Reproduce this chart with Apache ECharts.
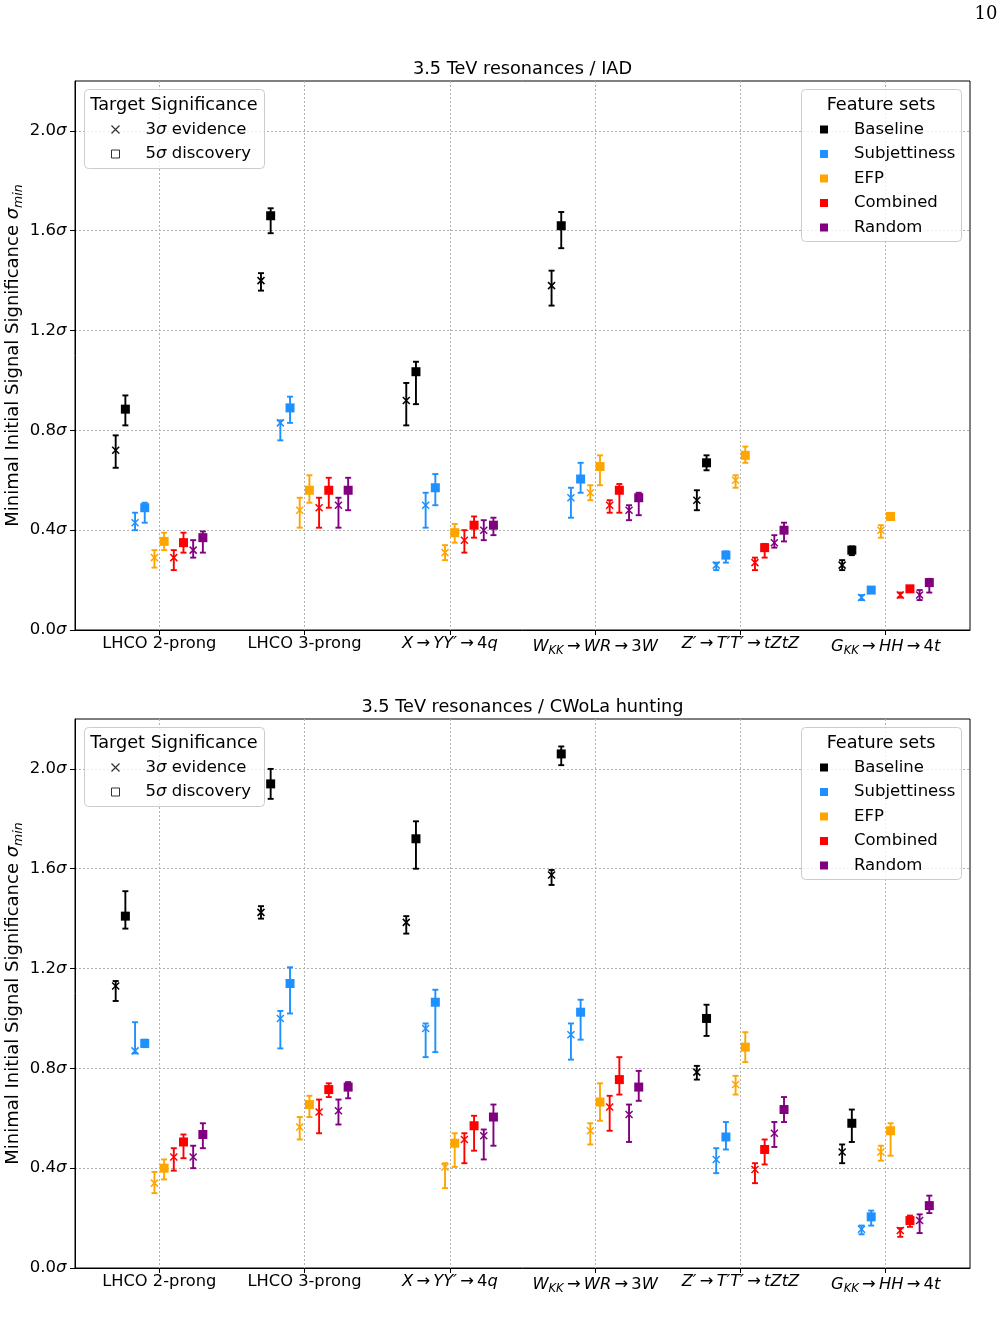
<!DOCTYPE html>
<html>
<head>
<meta charset="utf-8">
<script src="https://cdn.jsdelivr.net/npm/echarts@6/dist/echarts.min.js"></script>
<style>
html, body { margin: 0; padding: 0; background: #fff; }
#chart { width: 1002px; height: 1325px; }
</style>
</head>
<body>
<div id="chart"></div>
<script>
// ---- data ----
var categories = ['LHCO 2-prong', 'LHCO 3-prong', 'X→YY′→4q', 'W_KK→WR→3W', 'Z′→T′T′→tZtZ', 'G_KK→HH→4t'];
var categoryLabels = [
  '{n|LHCO 2-prong}',
  '{n|LHCO 3-prong}',
  '{i|X}{n|\u2009→\u2009}{i|YY′}{n|\u2009→\u20094}{i|q}',
  '{i|W}{s|KK}{n|\u2009→\u2009}{i|WR}{n|\u2009→\u20093}{i|W}',
  '{i|Z′}{n|\u2009→\u2009}{i|T′T′}{n|\u2009→\u2009}{i|tZtZ}',
  '{i|G}{s|KK}{n|\u2009→\u2009}{i|HH}{n|\u2009→\u20094}{i|t}'
];
var featureSets = ['Baseline', 'Subjettiness', 'EFP', 'Combined', 'Random'];
var significanceNames = ['3σ evidence', '5σ discovery'];
var panelTitles = ['3.5 TeV resonances / IAD', '3.5 TeV resonances / CWoLa hunting'];
var yTicks = [0, 0.4, 0.8, 1.2, 1.6, 2.0];

// IAD, rows = feature sets, cols = categories
var iadVal3 = [
  [0.72, 1.40, 0.92, 1.38, 0.52, 0.26],
  [0.43, 0.83, 0.50, 0.53, 0.26, 0.13],
  [0.29, 0.48, 0.31, 0.55, 0.60, 0.40],
  [0.29, 0.49, 0.36, 0.50, 0.27, 0.14],
  [0.32, 0.50, 0.40, 0.48, 0.35, 0.14]
];
var iadLo3 = [
  [0.65, 1.36, 0.82, 1.30, 0.48, 0.24],
  [0.40, 0.76, 0.41, 0.45, 0.24, 0.12],
  [0.25, 0.41, 0.28, 0.52, 0.57, 0.37],
  [0.24, 0.41, 0.31, 0.47, 0.24, 0.13],
  [0.29, 0.41, 0.36, 0.44, 0.33, 0.12]
];
var iadHi3 = [
  [0.78, 1.43, 0.99, 1.44, 0.56, 0.28],
  [0.47, 0.84, 0.55, 0.57, 0.27, 0.14],
  [0.32, 0.53, 0.34, 0.58, 0.62, 0.42],
  [0.32, 0.53, 0.40, 0.52, 0.29, 0.15],
  [0.36, 0.53, 0.44, 0.50, 0.38, 0.16]
];
var iadVal5 = [
  [0.885, 1.66, 1.035, 1.62, 0.67, 0.32],
  [0.49, 0.89, 0.57, 0.605, 0.30, 0.16],
  [0.355, 0.56, 0.39, 0.655, 0.70, 0.455],
  [0.35, 0.56, 0.42, 0.56, 0.33, 0.165],
  [0.37, 0.56, 0.42, 0.53, 0.40, 0.19]
];
var iadLo5 = [
  [0.82, 1.59, 0.905, 1.53, 0.64, 0.30],
  [0.43, 0.83, 0.50, 0.55, 0.27, 0.15],
  [0.32, 0.51, 0.35, 0.58, 0.67, 0.45],
  [0.31, 0.49, 0.37, 0.47, 0.29, 0.16],
  [0.31, 0.48, 0.38, 0.46, 0.355, 0.15]
];
var iadHi5 = [
  [0.94, 1.69, 1.075, 1.675, 0.70, 0.335],
  [0.51, 0.935, 0.625, 0.67, 0.315, 0.17],
  [0.39, 0.62, 0.425, 0.70, 0.735, 0.46],
  [0.39, 0.61, 0.455, 0.585, 0.345, 0.17],
  [0.395, 0.61, 0.45, 0.55, 0.43, 0.205]
];

// CWoLa hunting
var cwolaVal3 = [
  [1.13, 1.425, 1.385, 1.575, 0.785, 0.465],
  [0.87, 1.00, 0.96, 0.935, 0.435, 0.155],
  [0.34, 0.565, 0.405, 0.55, 0.735, 0.465],
  [0.445, 0.625, 0.515, 0.645, 0.395, 0.15],
  [0.445, 0.63, 0.53, 0.615, 0.54, 0.19]
];
var cwolaLo3 = [
  [1.07, 1.40, 1.34, 1.535, 0.755, 0.42],
  [0.86, 0.88, 0.845, 0.835, 0.38, 0.135],
  [0.30, 0.515, 0.32, 0.495, 0.695, 0.43],
  [0.39, 0.54, 0.42, 0.55, 0.34, 0.125],
  [0.40, 0.575, 0.435, 0.505, 0.485, 0.14]
];
var cwolaHi3 = [
  [1.15, 1.45, 1.41, 1.595, 0.81, 0.495],
  [0.985, 1.03, 0.98, 0.98, 0.48, 0.17],
  [0.385, 0.605, 0.42, 0.58, 0.77, 0.49],
  [0.48, 0.675, 0.54, 0.69, 0.42, 0.16],
  [0.49, 0.675, 0.555, 0.655, 0.585, 0.215]
];
var cwolaVal5 = [
  [1.41, 1.94, 1.72, 2.06, 1.00, 0.58],
  [0.90, 1.14, 1.065, 1.025, 0.525, 0.205],
  [0.40, 0.655, 0.50, 0.665, 0.885, 0.55],
  [0.505, 0.715, 0.57, 0.755, 0.475, 0.19],
  [0.535, 0.725, 0.605, 0.725, 0.635, 0.25]
];
var cwolaLo5 = [
  [1.36, 1.88, 1.60, 2.015, 0.93, 0.505],
  [0.885, 1.02, 0.865, 0.915, 0.475, 0.17],
  [0.355, 0.605, 0.405, 0.59, 0.825, 0.45],
  [0.44, 0.685, 0.47, 0.695, 0.415, 0.165],
  [0.48, 0.68, 0.49, 0.67, 0.585, 0.22]
];
var cwolaHi5 = [
  [1.51, 2.00, 1.79, 2.09, 1.055, 0.635],
  [0.915, 1.205, 1.115, 1.075, 0.585, 0.23],
  [0.435, 0.69, 0.54, 0.74, 0.945, 0.58],
  [0.535, 0.74, 0.61, 0.845, 0.515, 0.21],
  [0.58, 0.745, 0.655, 0.79, 0.685, 0.29]
];

// ---- styling ----
var setColors = ['#000000', '#1e90ff', '#ffa500', '#ff0000', '#800080'];
var FONT = 'DejaVu Sans';
var xCross = 'path://M0,0L10,10M10,0L0,10';
var gridTops = [81, 719];
var gridH = 549;

var panels = [
  { val3: iadVal3, lo3: iadLo3, hi3: iadHi3, val5: iadVal5, lo5: iadLo5, hi5: iadHi5 },
  { val3: cwolaVal3, lo3: cwolaLo3, hi3: cwolaHi3, val5: cwolaVal5, lo5: cwolaLo5, hi5: cwolaHi5 }
];

// dodge position of the k-th marker inside a category
function offset(k) {
  return -0.3 + k * 0.6 / 9;
}

function renderErrorBar(params, api) {
  var x = api.value(0);
  var top = api.coord([x, api.value(2)]);
  var bot = api.coord([x, api.value(1)]);
  var c = api.visual('color');
  var cap = 3;
  var st = { stroke: c, lineWidth: 1.9 };
  return {
    type: 'group',
    children: [
      { type: 'line', shape: { x1: top[0], y1: top[1], x2: bot[0], y2: bot[1] }, style: st },
      { type: 'line', shape: { x1: top[0] - cap, y1: top[1], x2: top[0] + cap, y2: top[1] }, style: st },
      { type: 'line', shape: { x1: bot[0] - cap, y1: bot[1], x2: bot[0] + cap, y2: bot[1] }, style: st }
    ]
  };
}

var series = [];
panels.forEach(function (pd, p) {
  featureSets.forEach(function (fs, j) {
    var c = setColors[j];
    series.push({
      type: 'scatter', name: fs, xAxisIndex: p, yAxisIndex: p,
      symbol: 'rect', symbolSize: 9, z: 4, silent: true,
      itemStyle: { color: c, opacity: 1 },
      data: categories.map(function (_, i) { return [i + offset(2 * j + 1), pd.val5[j][i]]; })
    });
    series.push({
      type: 'scatter', name: fs, xAxisIndex: p, yAxisIndex: p,
      symbol: xCross, symbolSize: 7, z: 4, silent: true,
      itemStyle: { color: 'none', borderColor: c, borderWidth: 1.5, opacity: 1 },
      data: categories.map(function (_, i) { return [i + offset(2 * j), pd.val3[j][i]]; })
    });
    var bars = [];
    categories.forEach(function (_, i) {
      bars.push([i + offset(2 * j), pd.lo3[j][i], pd.hi3[j][i]]);
      bars.push([i + offset(2 * j + 1), pd.lo5[j][i], pd.hi5[j][i]]);
    });
    series.push({
      type: 'custom', name: fs, xAxisIndex: p, yAxisIndex: p, z: 3, silent: true,
      renderItem: renderErrorBar, itemStyle: { color: c },
      encode: { x: 0, y: [1, 2] },
      data: bars
    });
  });
});
// empty series only for the "Target Significance" legend
series.push({ type: 'scatter', name: significanceNames[0], xAxisIndex: 0, yAxisIndex: 0, symbol: xCross, itemStyle: { color: 'none', borderColor: '#000', borderWidth: 1 }, data: [] });
series.push({ type: 'scatter', name: significanceNames[1], xAxisIndex: 0, yAxisIndex: 0, symbol: 'rect', itemStyle: { color: 'none', borderColor: '#000', borderWidth: 1 }, data: [] });

var grids = [], xAxes = [], yAxes = [], legends = [], titles = [], graphics = [];
var legendText = {
  fontSize: 16.5, fontFamily: FONT, color: '#000', lineHeight: 20, padding: [0, 0, 0, 21],
  rich: { i: { fontSize: 16.5, fontFamily: FONT, fontStyle: 'italic', color: '#000' } }
};

[0, 1].forEach(function (p) {
  var top = gridTops[p];
  var dy = top - gridTops[0];
  grids.push({
    left: 75, top: top, width: 895, height: gridH, outerBoundsMode: 'none', containLabel: false,
    show: true, borderColor: '#000', borderWidth: 1, backgroundColor: 'transparent'
  });
  xAxes.push({
    type: 'value', gridIndex: p, min: -0.58, max: 5.58,
    axisLine: { show: true, onZero: false, lineStyle: { color: '#000', width: 1 } },
    axisTick: { show: true, length: 5, lineStyle: { color: '#000' }, customValues: [0, 1, 2, 3, 4, 5] },
    splitLine: { show: true, lineStyle: { color: '#b0b0b0', width: 1, type: [2, 2] } },
    axisLabel: {
      customValues: [0, 1, 2, 3, 4, 5], margin: 6,
      formatter: function (v) { return categoryLabels[Math.round(v)]; },
      rich: {
        n: { fontSize: 16.3, fontFamily: FONT, color: '#000' },
        i: { fontSize: 16.3, fontFamily: FONT, fontStyle: 'italic', color: '#000' },
        s: { fontSize: 11.5, fontFamily: FONT, fontStyle: 'italic', color: '#000', padding: [9, 0, 0, 0] }
      }
    }
  });
  yAxes.push({
    type: 'value', gridIndex: p, min: 0, max: 2.2,
    name: '{n|Minimal Initial Signal Significance }{i|σ}{s|min}',
    nameLocation: 'middle', nameGap: 50, nameRotate: 90, nameMoveOverlap: false,
    nameTextStyle: {
      rich: {
        n: { fontSize: 18, fontFamily: FONT, color: '#000' },
        i: { fontSize: 18, fontFamily: FONT, fontStyle: 'italic', color: '#000' },
        s: { fontSize: 12.5, fontFamily: FONT, fontStyle: 'italic', color: '#000', padding: [10, 0, 0, 0] }
      }
    },
    axisLine: { show: true, onZero: false, lineStyle: { color: '#000', width: 1 } },
    axisTick: { show: true, length: 5, lineStyle: { color: '#000' }, customValues: yTicks },
    splitLine: { show: true, lineStyle: { color: '#b0b0b0', width: 1, type: [2, 2] } },
    axisLabel: {
      customValues: yTicks, margin: 8.5,
      formatter: function (v) { return '{n|' + v.toFixed(1) + '}{i|σ}'; },
      rich: {
        n: { fontSize: 16.5, fontFamily: FONT, color: '#000' },
        i: { fontSize: 16.5, fontFamily: FONT, fontStyle: 'italic', color: '#000' }
      }
    }
  });
  titles.push({
    text: panelTitles[p], left: 522.5, top: 60 + dy, padding: 0, textAlign: 'center',
    textStyle: { fontSize: 17.7, fontWeight: 'normal', fontFamily: FONT, color: '#000' }
  });
  legends.push({
    orient: 'vertical', left: 109, top: 119.5 + dy, itemGap: 4.5, itemWidth: 8, itemHeight: 8,
    selectedMode: false, z: 6, padding: 0,
    data: [
      { name: significanceNames[0], icon: xCross, itemStyle: { color: 'none', borderColor: '#000', borderWidth: 1.2 } },
      { name: significanceNames[1], icon: 'rect', itemStyle: { color: 'none', borderColor: '#000', borderWidth: 1 } }
    ],
    formatter: function (name) { return name.replace('σ', '{i|σ}'); },
    textStyle: legendText
  });
  legends.push({
    orient: 'vertical', left: 820, top: 119.5 + dy, itemGap: 4.5, itemWidth: 8, itemHeight: 8,
    selectedMode: false, z: 6, padding: 0,
    data: featureSets.map(function (n, j) {
      return { name: n, icon: 'rect', itemStyle: { color: setColors[j], borderWidth: 0 } };
    }),
    textStyle: legendText
  });
  // legend frames and their titles
  graphics.push({
    type: 'rect', z: 5, shape: { x: 84.5, y: 89.5 + dy, width: 180, height: 79, r: 4 },
    style: { fill: 'rgba(255,255,255,0.8)', stroke: '#cccccc', lineWidth: 1 }
  });
  graphics.push({
    type: 'text', z: 6, x: 174, y: 105 + dy,
    style: { text: 'Target Significance', font: '17.7px "DejaVu Sans"', fill: '#000', align: 'center', verticalAlign: 'middle' }
  });
  graphics.push({
    type: 'rect', z: 5, shape: { x: 801.5, y: 89.5 + dy, width: 160, height: 152, r: 4 },
    style: { fill: 'rgba(255,255,255,0.8)', stroke: '#cccccc', lineWidth: 1 }
  });
  graphics.push({
    type: 'text', z: 6, x: 881, y: 105 + dy,
    style: { text: 'Feature sets', font: '17.7px "DejaVu Sans"', fill: '#000', align: 'center', verticalAlign: 'middle' }
  });
});
graphics.push({
  type: 'text', z: 6, x: 986, y: 14,
  style: { text: '10', font: '18px "DejaVu Serif"', fill: '#000', align: 'center', verticalAlign: 'middle' }
});

var chart = echarts.init(document.getElementById('chart'), null, { renderer: 'canvas' });
chart.setOption({
  animation: false,
  backgroundColor: '#ffffff',
  title: titles,
  grid: grids,
  xAxis: xAxes,
  yAxis: yAxes,
  legend: legends,
  graphic: { elements: graphics },
  series: series
});
</script>
</body>
</html>
